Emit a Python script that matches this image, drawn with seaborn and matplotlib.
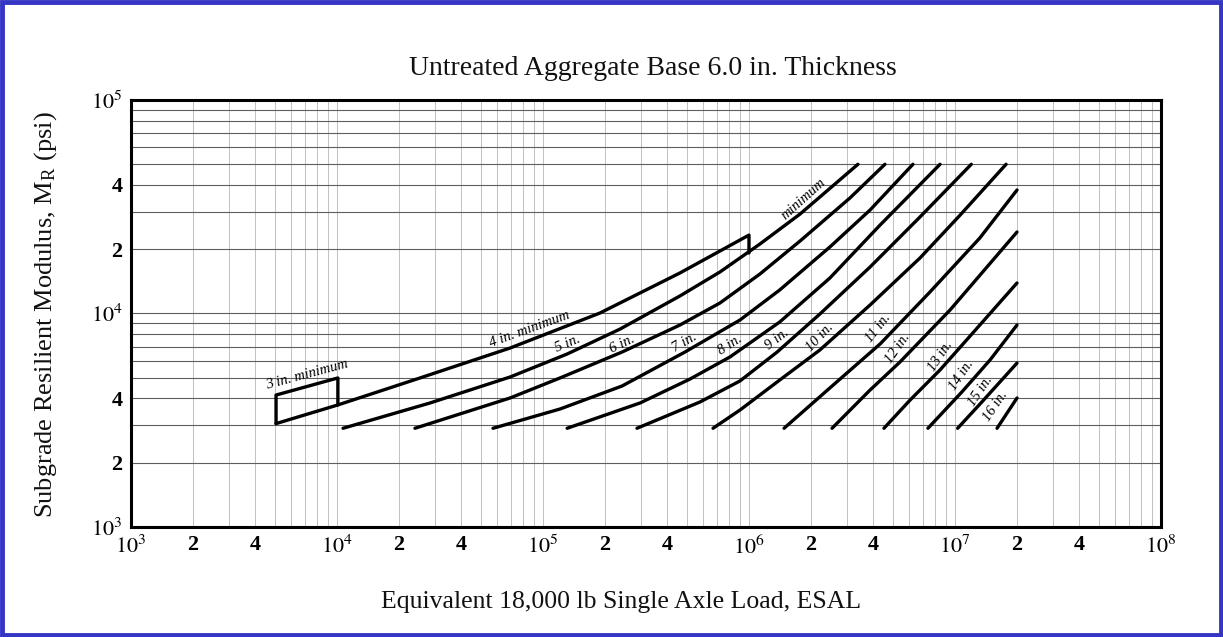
import numpy as np
import pandas as pd
import matplotlib
matplotlib.use("Agg")
import matplotlib.pyplot as plt
import seaborn as sns
from matplotlib.patches import Rectangle
from matplotlib.ticker import FixedLocator, NullFormatter, LogLocator

# ---------------- data ----------------
# ESAL (x) and subgrade resilient modulus MR in psi (y) for each thickness curve
box3_esal = [5.06e3, 5.06e3, 1.01e4, 1.01e4]
box3_mr = [3050, 4150, 4990, 3730]

in4_esal = [5.06e3, 1.01e4, 2.53e4, 6.92e4, 1.89e5, 4.62e5, 1.0e6, 1.0e6]
in4_mr = [3050, 3730, 4990, 6890, 10050, 15480, 23300, 19200]

in5_esal = [1.07e4, 2.83e4, 6.92e4, 1.31e5, 2.37e5, 4.62e5, 7.23e5, 1.13e6, 1.77e6, 3.38e6]
in5_mr = [2900, 3810, 5040, 6460, 8460, 12080, 15650, 21160, 29240, 50000]

in6_esal = [2.39e4, 6.92e4, 1.21e5, 2.42e5, 4.62e5, 7.23e5, 1.13e6, 1.77e6, 3.09e6, 4.57e6]
in6_mr = [2900, 4020, 4990, 6600, 8830, 11200, 15310, 21860, 34750, 50000]

in7_esal = [5.72e4, 1.21e5, 2.42e5, 4.89e5, 9.04e5, 1.41e6, 2.47e6, 3.87e6, 6.25e6]
in7_mr = [2900, 3570, 4575, 6600, 9320, 12890, 20490, 30530, 50000]

in8_esal = [1.31e5, 2.96e5, 5.17e5, 8.09e5, 1.41e6, 2.47e6, 4.33e6, 8.46e6]
in8_mr = [2900, 3810, 4930, 6260, 9125, 14660, 25970, 50000]

in9_esal = [2.86e5, 5.78e5, 9.04e5, 1.37e6, 2.21e6, 3.87e6, 6.76e6, 1.20e7]
in9_mr = [2900, 3850, 4830, 6600, 9950, 16510, 28310, 50000]

in10_esal = [6.69e5, 9.04e5, 1.41e6, 2.21e6, 3.87e6, 6.76e6, 1.06e7, 1.77e7]
in10_mr = [2900, 3530, 4880, 6750, 10960, 18190, 28930, 50000]

in11_esal = [1.48e6, 2.47e6, 4.33e6, 7.56e6, 1.32e7, 2.0e7]
in11_mr = [2900, 4480, 7200, 12610, 22580, 37880]

in12_esal = [2.53e6, 3.87e6, 5.41e6, 9.46e6, 2.0e7]
in12_mr = [2900, 4380, 5930, 10380, 24080]

in13_esal = [4.52e6, 6.05e6, 8.46e6, 1.32e7, 2.0e7]
in13_mr = [2900, 3930, 5440, 8830, 13900]

in14_esal = [7.39e6, 1.08e7, 1.48e7, 2.0e7]
in14_mr = [2900, 4290, 6060, 8830]

in15_esal = [1.03e7, 1.35e7, 2.0e7]
in15_mr = [2900, 3850, 5860]

in16_esal = [1.60e7, 2.0e7]
in16_mr = [2900, 4020]

# curve labels: text, ESAL, MR, angle
label_text = ["3 in. minimum", "4 in. minimum", "5 in.", "6 in.", "7 in.", "8 in.",
              "9 in.", "10 in.", "11 in.", "12 in.", "13 in.", "14 in.", "15 in.",
              "16 in.", "minimum"]
label_esal = [7.15e3, 8.65e4, 1.32e5, 2.42e5, 4.89e5, 8.09e5, 1.37e6, 2.21e6,
              4.23e6, 5.29e6, 8.46e6, 1.08e7, 1.33e7, 1.58e7, 1.83e6]
label_mr = [5150, 8450, 7250, 7150, 7300, 7150, 7550, 7700, 8550, 6890, 6325,
            5150, 4330, 3700, 34500]
label_angle = [15, 20, 23, 26, 30, 33, 38, 47, 52, 55, 56, 56, 56, 56, 42]

x_ticks = [1e3, 2e3, 4e3, 1e4, 2e4, 4e4, 1e5, 2e5, 4e5, 1e6, 2e6, 4e6, 1e7, 2e7, 4e7, 1e8]
x_tick_labels = ["$10^3$", "2", "4", "$10^4$", "2", "4", "$10^5$", "2", "4",
                 "$10^6$", "2", "4", "$10^7$", "2", "4", "$10^8$"]
y_ticks = [1e3, 2e3, 4e3, 1e4, 2e4, 4e4, 1e5]
y_tick_labels = ["$10^3$", "2", "4", "$10^4$", "2", "4", "$10^5$"]

title = "Untreated Aggregate Base 6.0 in. Thickness"
x_label = "Equivalent 18,000 lb Single Axle Load, ESAL"
y_label = "Subgrade Resilient Modulus, M$_\\mathregular{R}$ (psi)"

# ---------------- build table ----------------
curves = {
    "3 in. box": (box3_esal, box3_mr),
    "4 in.": (in4_esal, in4_mr), "5 in.": (in5_esal, in5_mr),
    "6 in.": (in6_esal, in6_mr), "7 in.": (in7_esal, in7_mr),
    "8 in.": (in8_esal, in8_mr), "9 in.": (in9_esal, in9_mr),
    "10 in.": (in10_esal, in10_mr), "11 in.": (in11_esal, in11_mr),
    "12 in.": (in12_esal, in12_mr), "13 in.": (in13_esal, in13_mr),
    "14 in.": (in14_esal, in14_mr), "15 in.": (in15_esal, in15_mr),
    "16 in.": (in16_esal, in16_mr),
}
rows = []
for name, (xs, ys) in curves.items():
    for i, (x, y) in enumerate(zip(xs, ys)):
        rows.append((name, i, x, y))
df = pd.DataFrame(rows, columns=["curve", "order", "esal", "mr"])

# ---------------- plot ----------------
sns.set_theme(style="white")
plt.rcParams['font.family'] = ['Liberation Serif', 'DejaVu Serif']
plt.rcParams['mathtext.fontset'] = 'stix'

fig = plt.figure(figsize=(12.23, 6.37), dpi=100)
fig.patch.set_facecolor("white")
fig.add_artist(Rectangle((0.002, 0.003), 0.996, 0.994, transform=fig.transFigure,
                         fill=False, edgecolor="#3535c6", linewidth=3.5))

ax = fig.add_axes([0.1071, 0.1727, 0.8422, 0.6703])
ax.set_xscale("log")
ax.set_yscale("log")
ax.set_xlim(1e3, 1e8)
ax.set_ylim(1e3, 1e5)

# grid
ax.yaxis.set_minor_locator(LogLocator(base=10, subs=np.arange(2, 10)))
ax.xaxis.set_minor_locator(LogLocator(base=10, subs=np.arange(2, 10)))
ax.grid(which="both", axis="y", color="#5e5e5e", linewidth=0.8)
ax.grid(which="both", axis="x", color="#b5b5b5", linewidth=0.6)
ax.set_axisbelow(True)

sns.lineplot(data=df, x="esal", y="mr", units="curve", estimator=None, sort=False,
             color="black", linewidth=2.4, ax=ax, legend=False)

for t, x, y, a in zip(label_text, label_esal, label_mr, label_angle):
    ax.text(x, y, t, rotation=a, rotation_mode="anchor", ha="center", va="center",
            fontsize=10.5, style="italic", color="black")

ax.xaxis.set_major_locator(FixedLocator(x_ticks))
ax.set_xticklabels(x_tick_labels)
ax.yaxis.set_major_locator(FixedLocator(y_ticks))
ax.set_yticklabels(y_tick_labels)
ax.xaxis.set_minor_formatter(NullFormatter())
ax.yaxis.set_minor_formatter(NullFormatter())
ax.tick_params(axis="both", which="major", direction="in", length=6, width=1.2,
               labelsize=16, colors="black", pad=6)
ax.tick_params(axis="both", which="minor", direction="in", length=3, width=0.8)
for lab in ax.get_xticklabels() + ax.get_yticklabels():
    lab.set_fontweight("bold")
ax.set_xlabel("")
ax.set_ylabel("")

for s in ax.spines.values():
    s.set_color("black")
    s.set_linewidth(2.2)

fig.text(0.534, 0.893, title, ha="center", va="center", fontsize=20, color="#111111")
fig.text(0.508, 0.055, x_label, ha="center", va="center", fontsize=18.5, color="#111111")
fig.text(0.037, 0.506, y_label, ha="center", va="center", rotation=90, fontsize=19,
         color="#111111")

fig.savefig("out.png", dpi=100)
